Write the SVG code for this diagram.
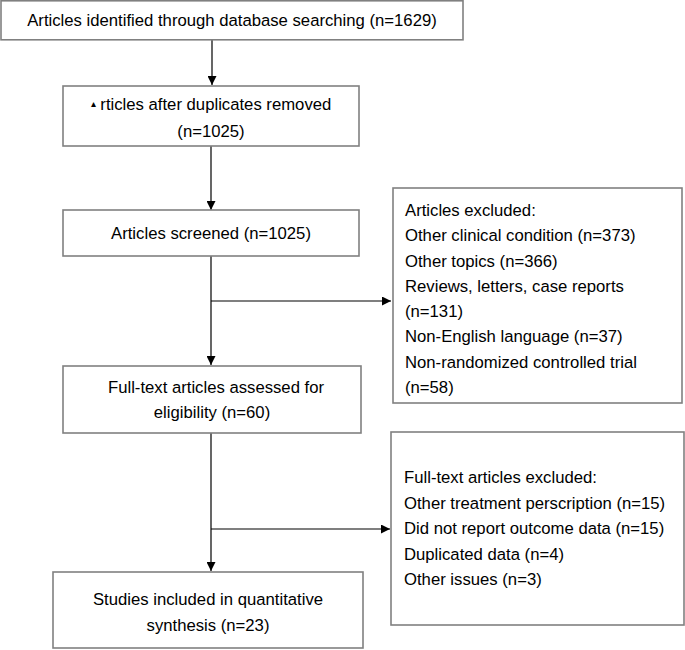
<svg xmlns="http://www.w3.org/2000/svg" width="685" height="650" viewBox="0 0 685 650">
<style>
.box{fill:#fff;stroke:#808080;stroke-width:1.6}
.t{font-family:"Liberation Sans",Arial,sans-serif;font-size:16.7px;fill:#000}
.c{text-anchor:middle}
.ln{stroke:#000;stroke-width:1.2;fill:none}
</style>
<defs>
<marker id="ah" viewBox="0 0 10 10" refX="10" refY="5" markerWidth="9" markerHeight="9" markerUnits="userSpaceOnUse" orient="auto">
<path d="M0,0 L10,5 L0,10 Z" fill="#000"/>
</marker>
</defs>
<rect width="685" height="650" fill="#fff"/>
<g id="connectors">
<line class="ln" x1="212" y1="40" x2="212" y2="85" marker-end="url(#ah)"/>
<line class="ln" x1="211" y1="146" x2="211" y2="210" marker-end="url(#ah)"/>
<line class="ln" x1="211" y1="256" x2="211" y2="365" marker-end="url(#ah)"/>
<line class="ln" x1="211" y1="301" x2="391" y2="301" marker-end="url(#ah)"/>
<line class="ln" x1="211" y1="433" x2="211" y2="571" marker-end="url(#ah)"/>
<line class="ln" x1="211" y1="529" x2="390" y2="529" marker-end="url(#ah)"/>
</g>
<g id="identified">
<rect class="box" x="1" y="0.8" width="462" height="39"/>
<text class="t c" x="232" y="26">Articles identified through database searching (n=1629)</text>
</g>
<g id="duplicates">
<rect class="box" x="63" y="86" width="296" height="60"/>
<text class="t c" x="211" y="110"><tspan font-size="10" dy="-3">▴</tspan><tspan dy="3"> rticles after duplicates removed</tspan></text>
<text class="t c" x="211" y="137">(n=1025)</text>
</g>
<g id="screened">
<rect class="box" x="63" y="210" width="296" height="46"/>
<text class="t c" x="211" y="239">Articles screened (n=1025)</text>
</g>
<g id="excluded1">
<rect class="box" x="393" y="188" width="289" height="215"/>
<text class="t" x="405" y="216">Articles excluded:</text>
<text class="t" x="405" y="241.3">Other clinical condition (n=373)</text>
<text class="t" x="405" y="266.5">Other topics (n=366)</text>
<text class="t" x="405" y="291.8">Reviews, letters, case reports</text>
<text class="t" x="405" y="317">(n=131)</text>
<text class="t" x="405" y="342.3">Non-English language (n=37)</text>
<text class="t" x="405" y="367.5">Non-randomized controlled trial</text>
<text class="t" x="405" y="392.8">(n=58)</text>
</g>
<g id="fulltext">
<rect class="box" x="63" y="366" width="298" height="67"/>
<text class="t c" x="216" y="393">Full-text articles assessed for</text>
<text class="t c" x="212" y="418">eligibility (n=60)</text>
</g>
<g id="excluded2">
<rect class="box" x="391" y="432" width="293" height="193"/>
<text class="t" x="404" y="483">Full-text articles excluded:</text>
<text class="t" x="404" y="508.5">Other treatment perscription (n=15)</text>
<text class="t" x="404" y="534">Did not report outcome data (n=15)</text>
<text class="t" x="404" y="559.5">Duplicated data (n=4)</text>
<text class="t" x="404" y="585">Other issues (n=3)</text>
</g>
<g id="included">
<rect class="box" x="53" y="572" width="310" height="76"/>
<text class="t c" x="208" y="605">Studies included in quantitative</text>
<text class="t c" x="208" y="631">synthesis (n=23)</text>
</g>
</svg>
